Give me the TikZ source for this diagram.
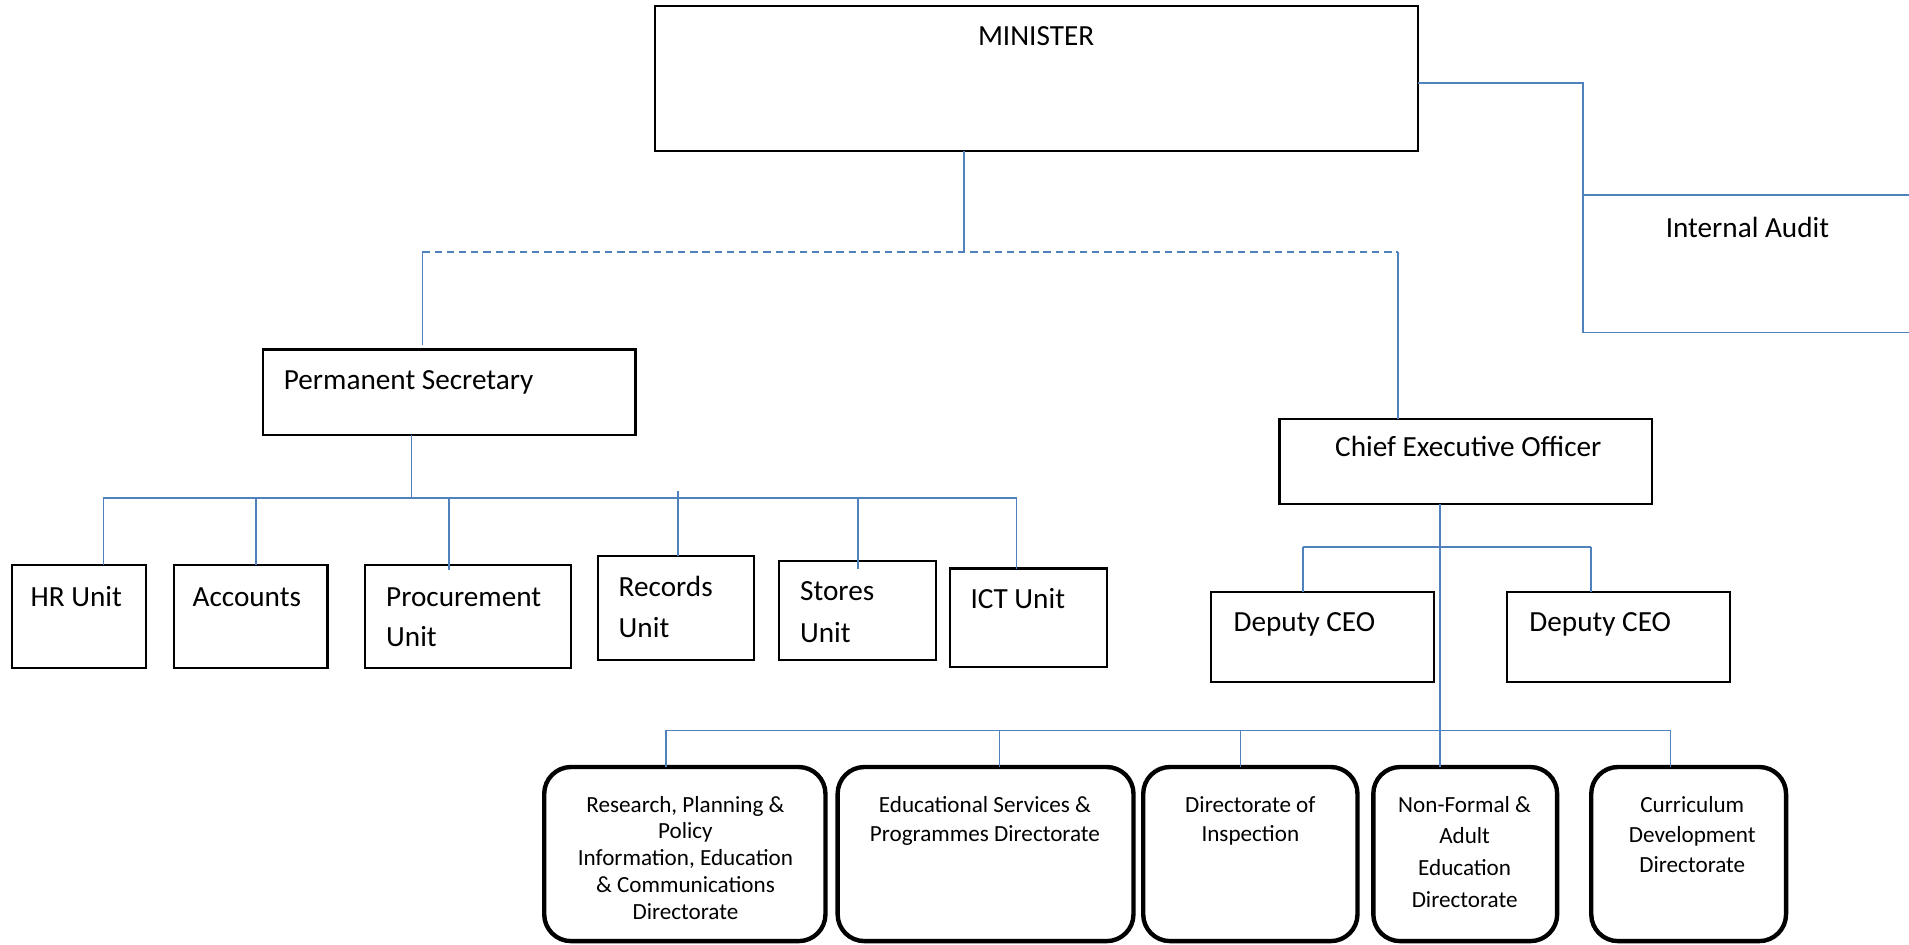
\documentclass[tikz,border=0pt]{standalone}
\usepackage{fontspec}
\setmainfont{Carlito}
\definecolor{linkblue}{HTML}{4F81BD}
\begin{document}
\begin{tikzpicture}[x=1pt,y=-1pt,
  box/.style={draw=black, line width=1.8pt, inner sep=0pt, outer sep=0pt, anchor=north west},
  dirbox/.style={draw=black, line width=3.6pt, rounded corners=22pt, inner sep=0pt, outer sep=0pt, anchor=north west},
  auditbox/.style={draw=linkblue, line width=1.4pt, inner sep=0pt, outer sep=0pt, anchor=north west},
  link/.style={draw=linkblue, line width=1.4pt},
  lbl/.style={font=\fontsize{24}{33}\selectfont, inner sep=0pt, anchor=base west, align=left},
  dlbl/.style={font=\fontsize{19}{24}\selectfont, inner sep=0pt, anchor=base, align=center}]
\useasboundingbox (0,0) rectangle (1568,776);
\clip (0,0) rectangle (1568,776);

% ---- top level ----
\node[box, minimum width=627, minimum height=119] (min) at (538,5) {};
\node[lbl, anchor=base] (mint) at (851,37) {MINISTER};

\node[auditbox, minimum width=400, minimum height=113] (audit) at (1300,160) {};
\node[lbl] (auditt) at (1368,195) {Internal Audit};
\coordinate (aud) at (1300,68);
\draw[link] ([yshift=-3.5pt]min.east) -- (aud) -- (audit.north west);

% ---- second level ----
\node[box, minimum width=306, minimum height=70] (ps) at (216,287) {};
\node[lbl] (pst) at (233,320) {Permanent Secretary};
\node[box, minimum width=306, minimum height=70] (ceo) at (1051,344) {};
\node[lbl, anchor=base] (ceot) at (1206,375) {Chief Executive Officer};

\coordinate (mj) at (792,207);
\coordinate (dl) at (347,207);
\coordinate (dr) at (1148,207);
\draw[link] (min.south -| mj) -- (mj);
\draw[link, dashed, dash pattern=on 6pt off 4pt] (dl) -- (dr);
\draw[link] (dl) -- ([yshift=4pt]ps.north -| dl);
\draw[link] (dr) -- (ceo.north -| dr);

% ---- units under the Permanent Secretary ----
\node[box, minimum width=110, minimum height=85] (hr)  at (10,464)  {};
\node[box, minimum width=126, minimum height=85] (acc) at (143,464) {};
\node[box, minimum width=169, minimum height=85] (pro) at (300,464) {};
\node[box, minimum width=128, minimum height=85] (rec) at (491,457) {};
\node[box, minimum width=129, minimum height=81] (sto) at (640,461) {};
\node[box, minimum width=129, minimum height=81] (ict) at (780,467) {};

% two-line labels are placed by the baseline of their last line
\node[lbl] (hrt)  at (25,498)  {HR Unit};
\node[lbl] (acct) at (158,498) {Accounts};
\node[lbl] (prot) at (317,531) {Procurement\\Unit};
\node[lbl, font=\fontsize{24}{34}\selectfont] (rect) at (508,524) {Records\\Unit};
\node[lbl, font=\fontsize{24}{35}\selectfont] (stot) at (657,528) {Stores\\Unit};
\node[lbl] (ictt) at (797,500) {ICT Unit};

\coordinate (psb) at (338,409);
\coordinate (tHR) at (85,409);
\coordinate (tAcc) at (210,409);
\coordinate (tPro) at (369,409);
\coordinate (tRec) at (557,409);
\coordinate (tSto) at (705,409);
\coordinate (tICT) at (835,409);
\draw[link] (ps.south -| psb) -- (psb);
\draw[link] (tHR) -- (tICT);
\draw[link] (tHR) -- (hr.north -| tHR);
\draw[link] (tAcc) -- (acc.north -| tAcc);
\draw[link] (tPro) -- ([yshift=-4pt]pro.north -| tPro);
\draw[link] ([yshift=6pt]tRec) -- (rec.north -| tRec);
\draw[link] (tSto) -- ([yshift=-6pt]sto.north -| tSto);
\draw[link] (tICT) -- (ict.north -| tICT);

% ---- deputies ----
\node[box, minimum width=183, minimum height=74] (dep1) at (995,486) {};
\node[box, minimum width=183, minimum height=74] (dep2) at (1238,486) {};
\node[lbl] (dep1t) at (1013,519) {Deputy CEO};
\node[lbl] (dep2t) at (1256,519) {Deputy CEO};

\coordinate (tD1) at (1070,449);
\coordinate (tD2) at (1307,449);
\draw[link] (tD1) -- (tD2);
\draw[link] (tD1) -- (dep1.north -| tD1);
\draw[link] (tD2) -- (dep2.north -| tD2);

% ---- directorates ----
\node[dirbox, minimum width=231, minimum height=143] (rpp) at (447,630) {};
\node[dirbox, minimum width=243, minimum height=143] (esp) at (688,630) {};
\node[dirbox, minimum width=176, minimum height=143] (ins) at (939,630) {};
\node[dirbox, minimum width=151, minimum height=143] (nfa) at (1128,630) {};
\node[dirbox, minimum width=160, minimum height=143] (cdd) at (1307,630) {};

\node[dlbl, font=\fontsize{19}{22}\selectfont] (rppt) at (563,755)
  {Research, Planning \&\\Policy\\Information, Education\\\& Communications\\Directorate};
\node[dlbl] (espt) at (809,691) {Educational Services \&\\Programmes Directorate};
\node[dlbl] (inst) at (1027,691) {Directorate of\\Inspection};
\node[dlbl, font=\fontsize{19}{26}\selectfont] (nfat) at (1203,745)
  {Non-Formal \&\\Adult\\Education\\Directorate};
\node[dlbl, font=\fontsize{19}{25}\selectfont] (cddt) at (1390,717)
  {Curriculum\\Development\\Directorate};

\coordinate (cx) at (1183,600);
\coordinate (tR) at (547,600);
\coordinate (tE) at (821,600);
\coordinate (tI) at (1019,600);
\coordinate (tC) at (1372,600);
\draw[link] (ceo.south -| cx) -- (nfa.north -| cx);
\draw[link] (tR) -- (tC);
\draw[link] (tR) -- (rpp.north -| tR);
\draw[link] (tE) -- (esp.north -| tE);
\draw[link] (tI) -- (ins.north -| tI);
\draw[link] (tC) -- (cdd.north -| tC);
\end{tikzpicture}
\end{document}
